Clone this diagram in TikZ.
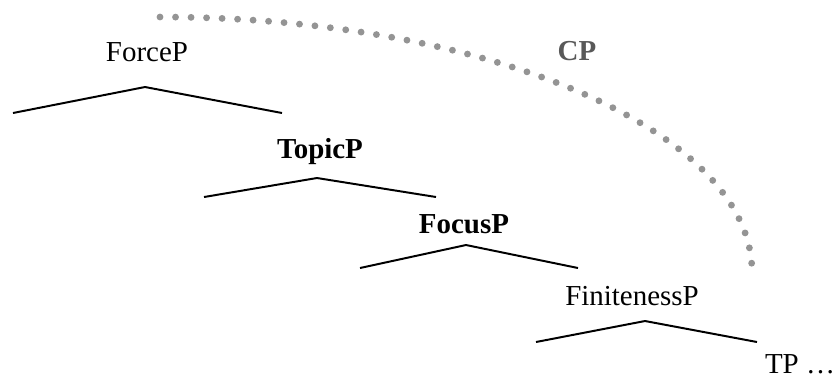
\documentclass[tikz,border=0pt]{standalone}
\usepackage{fontspec}
\setmainfont{Liberation Serif}
\tikzset{
	branch/.style={line width=0.75pt},
	cpdots/.style={line width=2.6pt, color=black!42, line cap=round, dash pattern=on 0pt off 5.9pt},
	cplabel/.style={color=black!65, font=\fontsize{11}{13}\selectfont\bfseries}
}

\begin{document}
\begin{tikzpicture}[x=0.38pt, y=-0.38pt, every node/.style={font=\fontsize{11}{13}\selectfont}]
		%%%%% START %%%%%
		
		\useasboundingbox (0, 0) rectangle (832, 378);
		
		\node[anchor=base] (force) at (147, 61) {ForceP};
		\coordinate (force-top) at (145, 87);
		\coordinate (force-l) at (13, 113);
		\coordinate (force-r) at (282, 113);
		\draw[branch] (force-l) -- (force-top) -- (force-r);
		
		\node[anchor=base] (topic) at (320, 158) {\bfseries TopicP};
		\coordinate (topic-top) at (317, 178);
		\coordinate (topic-l) at (204, 197);
		\coordinate (topic-r) at (436, 197);
		\draw[branch] (topic-l) -- (topic-top) -- (topic-r);
		
		\node[anchor=base] (focus) at (464, 233) {\bfseries FocusP};
		\coordinate (focus-top) at (466, 245);
		\coordinate (focus-l) at (360, 268);
		\coordinate (focus-r) at (578, 268);
		\draw[branch] (focus-l) -- (focus-top) -- (focus-r);
		
		\node[anchor=base] (fin) at (632, 305) {FinitenessP};
		\coordinate (fin-top) at (645, 321);
		\coordinate (fin-l) at (536, 342);
		\coordinate (fin-r) at (757, 342);
		\draw[branch] (fin-l) -- (fin-top) -- (fin-r);
		
		\node[anchor=base] (tp) at (800, 373) {TP \dots};
		
		% CP span
		\node[anchor=base, cplabel] (cp) at (577, 60) {CP};
		\coordinate (cp-start) at (160, 17);
		\coordinate (cp-end) at (752, 272);
		\draw[cpdots] (cp-start) .. controls (487, 17) and (752, 131) .. (cp-end);
		
		%%%%% END %%%%%
	\end{tikzpicture}
\end{document}
